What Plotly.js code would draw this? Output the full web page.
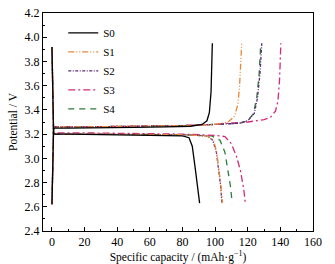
<!DOCTYPE html>
<html>
<head>
<meta charset="utf-8">
<script src="https://cdn.plot.ly/plotly-3.0.1.min.js"></script>
<style>html,body{margin:0;padding:0;background:#fff;}#chart{width:335px;height:264px;}</style>
</head>
<body>
<div id="chart"></div>
<script>
// Sample names and styles
const sampleNames = ["S0", "S1", "S2", "S3", "S4"];
const sampleColors = ["#000000", "#E8873A", "#5A2A78", "#D42A78", "#2F7A3E"];
const sampleDash = ["solid", "6px,2px,1px,2px,1px,2px", "3px,1.5px,1px,1.5px", "7px,3px,2px,3px", "6px,5px"];

// Charge curves (capacity mAh/g, potential V)
const chargeCapS0 = [0, 0.5, 1, 10, 30, 50, 70, 85, 92, 95, 96.5, 97.5, 98, 98.3];
const chargeVS0   = [2.62, 3.1, 3.25, 3.25, 3.25, 3.255, 3.26, 3.265, 3.28, 3.31, 3.38, 3.55, 3.8, 3.95];
const chargeCapS1 = [0, 0.5, 1, 20, 50, 80, 100, 108, 112, 114, 115, 115.8, 116.3];
const chargeVS1   = [2.62, 3.1, 3.26, 3.26, 3.265, 3.27, 3.28, 3.3, 3.35, 3.45, 3.6, 3.8, 3.95];
const chargeCapS2 = [0, 0.5, 1, 20, 50, 80, 100, 115, 120, 124, 126, 127.5, 128.6];
const chargeVS2   = [2.62, 3.1, 3.26, 3.26, 3.265, 3.27, 3.28, 3.29, 3.31, 3.37, 3.5, 3.7, 3.95];
const chargeCapS3 = [0, 0.5, 1, 20, 50, 80, 100, 120, 130, 134, 137, 138.5, 139.5, 140.3];
const chargeVS3   = [2.62, 3.1, 3.26, 3.26, 3.265, 3.27, 3.28, 3.3, 3.32, 3.34, 3.39, 3.47, 3.65, 3.95];
const chargeCapS4 = [0, 0.5, 1, 20, 50, 80, 100, 115, 120, 123.5, 125.5, 127, 128];
const chargeVS4   = [2.62, 3.1, 3.26, 3.26, 3.265, 3.27, 3.28, 3.29, 3.31, 3.37, 3.5, 3.7, 3.95];

// Discharge curves
const dischargeCapS0 = [0, 0.5, 1, 10, 30, 50, 70, 80, 84, 86, 87.5, 89, 90.5];
const dischargeVS0   = [3.92, 3.4, 3.2, 3.2, 3.197, 3.195, 3.19, 3.185, 3.17, 3.1, 2.95, 2.8, 2.63];
const dischargeCapS1 = [0, 0.5, 1, 20, 50, 80, 95, 99, 101, 102.5, 103.5, 104.5];
const dischargeVS1   = [3.92, 3.4, 3.2, 3.2, 3.197, 3.195, 3.185, 3.15, 3.05, 2.9, 2.78, 2.63];
const dischargeCapS2 = [0, 0.5, 1, 20, 50, 80, 95, 98.5, 100.8, 102.3, 103.3, 104.2];
const dischargeVS2   = [3.92, 3.4, 3.2, 3.2, 3.197, 3.195, 3.185, 3.15, 3.05, 2.9, 2.78, 2.63];
const dischargeCapS3 = [0, 0.5, 1, 20, 50, 80, 100, 106, 110, 113, 115.5, 117.5, 118.5];
const dischargeVS3   = [3.92, 3.4, 3.21, 3.21, 3.205, 3.2, 3.19, 3.18, 3.12, 3.02, 2.9, 2.75, 2.63];
const dischargeCapS4 = [0, 0.5, 1, 20, 50, 80, 98, 103, 106, 108, 109.3, 110.5];
const dischargeVS4   = [3.92, 3.4, 3.2, 3.2, 3.197, 3.195, 3.185, 3.15, 3.05, 2.9, 2.78, 2.63];

const chargeCaps = [chargeCapS0, chargeCapS1, chargeCapS2, chargeCapS3, chargeCapS4];
const chargeVs = [chargeVS0, chargeVS1, chargeVS2, chargeVS3, chargeVS4];
const dischargeCaps = [dischargeCapS0, dischargeCapS1, dischargeCapS2, dischargeCapS3, dischargeCapS4];
const dischargeVs = [dischargeVS0, dischargeVS1, dischargeVS2, dischargeVS3, dischargeVS4];

const traces = [];
for (let i = sampleNames.length - 1; i >= 0; i--) {
  const line = {color: sampleColors[i], width: 1.3, dash: sampleDash[i]};
  traces.push({
    x: chargeCaps[i], y: chargeVs[i], type: "scatter", mode: "lines",
    name: sampleNames[i], legendgroup: sampleNames[i], legendrank: i + 1,
    line: line
  });
  traces.push({
    x: dischargeCaps[i], y: dischargeVs[i], type: "scatter", mode: "lines",
    name: sampleNames[i], legendgroup: sampleNames[i], showlegend: false,
    line: line
  });
}

const font = {family: "Liberation Serif", size: 12, color: "#000"};
const titleFont = {family: "Liberation Serif", size: 11.5, color: "#000"};

const layout = {
  width: 335, height: 264,
  margin: {l: 43, r: 22, t: 13, b: 33},
  paper_bgcolor: "#fff", plot_bgcolor: "#fff",
  font: font,
  showlegend: true,
  legend: {x: 0.075, y: 0.975, xanchor: "left", yanchor: "top", bgcolor: "rgba(0,0,0,0)",
           font: {family: "Liberation Serif", size: 11, color: "#000"}, tracegroupgap: 0, itemwidth: 30},
  xaxis: {
    range: [-5.5, 160], tickvals: [0, 20, 40, 60, 80, 100, 120, 140, 160],
    ticks: "inside", ticklen: 4, tickcolor: "#000",
    minor: {dtick: 10, tick0: 0, ticks: "inside", ticklen: 2, tickcolor: "#000"},
    showline: true, linecolor: "#000", linewidth: 1, mirror: true,
    showgrid: false, zeroline: false,
    title: {text: "Specific capacity / (mAh·g<sup>−1</sup>)", font: titleFont, standoff: 0}
  },
  yaxis: {
    range: [2.4, 4.2], dtick: 0.2, tick0: 2.4, tickformat: ".1f",
    ticks: "inside", ticklen: 4, tickcolor: "#000",
    minor: {dtick: 0.1, ticks: "inside", ticklen: 2, tickcolor: "#000"},
    showline: true, linecolor: "#000", linewidth: 1, mirror: true,
    showgrid: false, zeroline: false,
    title: {text: "Potential / V", font: titleFont, standoff: 4}
  }
};

Plotly.newPlot("chart", traces, layout, {staticPlot: true, displayModeBar: false});
</script>
</body>
</html>
